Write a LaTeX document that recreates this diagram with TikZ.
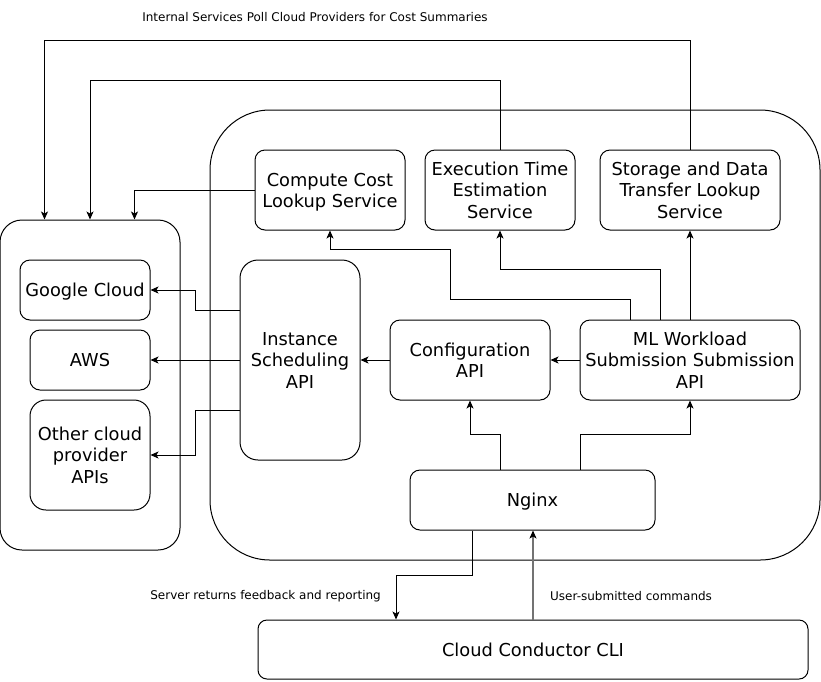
\documentclass[tikz,border=0pt]{standalone}
\usepackage{fontspec}
\setmainfont{DejaVu Sans}
\usetikzlibrary{arrows.meta}
\newcommand{\bxt}[1]{\raisebox{-2.5pt}[\height][\depth]{\begin{tabular}{@{}c@{}}#1\end{tabular}}}
\begin{document}
\begin{tikzpicture}[x=1pt,y=-1pt,
  box/.style={draw=black,line width=1pt,rounded corners=10pt,inner sep=0pt,
    font=\fontsize{17.8}{21.5}\selectfont},
  cont/.style={draw=black,line width=1pt},
  arr/.style={draw=black,line width=1pt,-{Stealth[length=8pt,width=7pt,inset=2pt]}},
  arrg/.style={draw=black!55,line width=1.3pt,-{Stealth[length=8pt,width=7pt,inset=2pt,color=black]}},
  lbl/.style={font=\fontsize{12}{14}\selectfont,inner sep=0pt}]
\useasboundingbox (0,0) rectangle (821,681);
% containers
\node[cont,rounded corners=22pt,minimum width=180pt,minimum height=330pt,inner sep=0pt] (leftc) at (90,385) {};
\node[cont,rounded corners=60pt,minimum width=610pt,minimum height=450pt,inner sep=0pt] (mainc) at (515,335) {};
% boxes
\node[box,minimum width=130pt,minimum height=60pt] (google) at (85,290) {\bxt{Google Cloud}};
\node[box,minimum width=120pt,minimum height=60pt] (aws) at (90,360) {\bxt{AWS}};
\node[box,rounded corners=16pt,minimum width=120pt,minimum height=110pt] (other) at (90,455) {\bxt{Other cloud\\provider\\APIs}};
\node[box,rounded corners=18pt,minimum width=120pt,minimum height=200pt] (inst) at (300,360) {\bxt{Instance\\Scheduling\\API}};
\node[box,minimum width=160pt,minimum height=80pt] (config) at (470,360) {\bxt{Configuration\\API}};
\node[box,minimum width=220pt,minimum height=80pt] (ml) at (690,360) {\bxt{ML Workload\\Submission Submission\\API}};
\node[box,minimum width=245pt,minimum height=60pt] (nginx) at (532.5,500) {\bxt{Nginx}};
\node[box,rounded corners=9pt,minimum width=550pt,minimum height=59pt] (cli) at (533,649.5) {\bxt{Cloud Conductor CLI}};
\node[box,minimum width=150pt,minimum height=80pt] (compute) at (330,190) {\bxt{Compute Cost\\Lookup Service}};
\node[box,minimum width=150pt,minimum height=80pt] (exec) at (500,190) {\bxt{Execution Time\\Estimation\\Service}};
\node[box,minimum width=180pt,minimum height=80pt] (storage) at (690,190) {\bxt{Storage and Data\\Transfer Lookup\\Service}};
% labels
\node[lbl] (toplbl) at (315,17) {Internal Services Poll Cloud Providers for Cost Summaries};
\node[lbl,anchor=east] (srvlbl) at (381,596.5) {Server returns feedback and reporting};
\node[lbl,anchor=west] (usrlbl) at (550,596.5) {User-submitted commands};
% bend coordinates
\coordinate (bendA) at (0,40);
\coordinate (bendB) at (0,80);
% polling connectors
\draw[arr] (storage.north) -- (storage.north |- bendA) -| ([xshift=45pt]leftc.north west);
\draw[arr] (exec.north) -- (exec.north |- bendB) -| (leftc.north);
\draw[arr] (compute.west) -| ([xshift=135pt]leftc.north west);
% instance scheduling to providers
\draw[arr] ([yshift=50pt]inst.west) -- ++(-44,0) |- (google.east);
\draw[arr] (inst.west) -- (aws.east);
\draw[arr] ([yshift=-50pt]inst.west) -- ++(-44,0) |- (other.east);
% inner
\draw[arr] (config.west) -- (inst.east);
\draw[arr] (ml.west) -- (config.east);
\draw[arr] ([xshift=-60pt]ml.north) -- ++(0,-20) -- ++(-180,0) -- ++(0,-50) -| (compute.south);
\draw[arr] ([xshift=-30pt]ml.north) -- ++(0,-50) -| (exec.south);
\draw[arr] (ml.north) -- (storage.south);
\draw[arr] ([xshift=-32.5pt]nginx.north) -- ++(0,-35) -| (config.south);
\draw[arr] ([xshift=47.5pt]nginx.north) -- ++(0,-35) -| (ml.south);
\draw[arr] ([xshift=-60.5pt]nginx.south) -- ++(0,45) -| ([xshift=-137pt]cli.north);
\draw[arrg] (cli.north) -- (cli.north |- nginx.south);
\end{tikzpicture}
\end{document}
